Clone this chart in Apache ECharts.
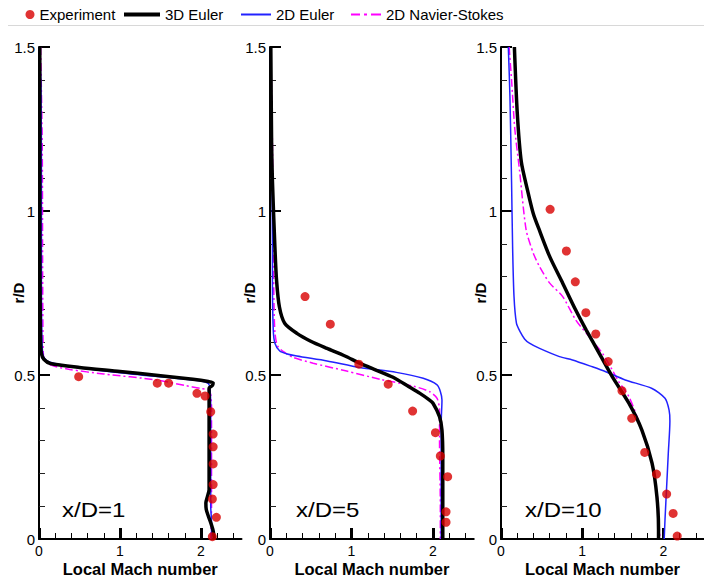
<!DOCTYPE html>
<html><head><meta charset="utf-8">
<script src="https://cdn.jsdelivr.net/npm/echarts@6/dist/echarts.min.js"></script>
<style>html,body{margin:0;padding:0;background:#fff}#c{width:704px;height:582px}</style>
</head><body><div id="c"></div>
<script>
// ---------- data ----------
const seriesNames = ['Experiment', '3D Euler', '2D Euler', '2D Navier-Stokes'];
const panelLabels = ['x/D=1', 'x/D=5', 'x/D=10'];
const xAxisTitle = 'Local Mach number';
const yAxisTitle = 'r/D';
const xMajorTicks = [0, 1, 2];
const xMinorTicks = [0.2, 0.4, 0.6, 0.8, 1.2, 1.4, 1.6, 1.8, 2.2, 2.4];

// x/D = 1   ([Mach, r/D])
const exp1 = [[0.49,0.495],[1.46,0.475],[1.60,0.475],[1.95,0.444],[2.05,0.436],[2.12,0.388],[2.15,0.320],[2.15,0.281],[2.15,0.229],[2.15,0.166],[2.14,0.122],[2.19,0.066],[2.14,0.007]];
const euler3d1 = [[0.01,1.5],[0.01,1.2],[0.01,0.9],[0.015,0.7],[0.02,0.6],[0.03,0.565],[0.06,0.548],[0.14,0.535],[0.5,0.523],[1.0,0.511],[1.5,0.498],[1.9,0.487],[2.09,0.480],[2.15,0.476],[2.14,0.468],[2.10,0.460],[2.10,0.40],[2.10,0.30],[2.10,0.20],[2.10,0.15],[2.08,0.13],[2.06,0.11],[2.065,0.09],[2.09,0.07],[2.12,0.05],[2.15,0.025],[2.165,0.0]];
const euler2d1 = [[0.005,1.5],[0.025,1.37],[0.03,1.1],[0.03,0.8],[0.035,0.62],[0.05,0.56],[0.1,0.543],[0.3,0.530],[1.0,0.507],[1.6,0.492],[2.0,0.482],[2.09,0.474],[2.11,0.46],[2.12,0.40],[2.12,0.20],[2.12,0.10],[2.13,0.05],[2.13,0.0]];
const ns1 = [[0.02,1.5],[0.04,1.2],[0.045,0.8],[0.05,0.6],[0.06,0.55],[0.15,0.530],[0.38,0.517],[0.8,0.503],[1.45,0.485],[1.8,0.468],[1.99,0.459],[2.09,0.455],[2.12,0.44],[2.13,0.40],[2.13,0.20],[2.13,0.10],[2.12,0.0]];

// x/D = 5
const exp2 = [[0.43,0.739],[0.74,0.655],[1.09,0.533],[1.45,0.472],[1.75,0.390],[2.03,0.324],[2.09,0.253],[2.18,0.190],[2.16,0.083],[2.16,0.051]];
const euler3d2 = [[0.01,1.5],[0.02,1.2],[0.03,1.09],[0.06,0.89],[0.08,0.79],[0.115,0.708],[0.18,0.658],[0.33,0.627],[0.5,0.603],[0.70,0.581],[0.92,0.558],[1.10,0.536],[1.3,0.515],[1.51,0.493],[1.70,0.465],[1.84,0.444],[1.95,0.425],[2.0,0.414],[2.08,0.373],[2.11,0.332],[2.12,0.25],[2.12,0.10],[2.12,0.0]];
const euler2d2 = [[0.005,1.5],[0.02,1.2],[0.03,0.9],[0.03,0.79],[0.04,0.637],[0.06,0.597],[0.12,0.573],[0.2,0.565],[0.33,0.558],[0.70,0.543],[1.10,0.523],[1.55,0.508],[1.88,0.490],[2.05,0.470],[2.09,0.450],[2.11,0.424],[2.10,0.35],[2.10,0.20],[2.10,0.0]];
const ns2 = [[0.01,1.5],[0.03,1.2],[0.04,0.9],[0.05,0.7],[0.06,0.63],[0.08,0.597],[0.10,0.586],[0.165,0.571],[0.29,0.553],[0.53,0.536],[0.94,0.512],[1.35,0.487],[1.76,0.466],[1.96,0.449],[2.05,0.429],[2.08,0.393],[2.08,0.30],[2.09,0.10],[2.09,0.0]];

// x/D = 10
const exp3 = [[0.605,1.005],[0.805,0.878],[0.915,0.784],[1.045,0.690],[1.167,0.625],[1.32,0.541],[1.49,0.452],[1.61,0.368],[1.77,0.264],[1.915,0.198],[2.04,0.137],[2.12,0.078],[2.17,0.009]];
const euler3d3 = [[0.165,1.5],[0.2,1.3],[0.25,1.15],[0.33,1.06],[0.40,0.99],[0.475,0.94],[0.60,0.861],[0.76,0.780],[0.92,0.698],[1.05,0.637],[1.21,0.566],[1.37,0.495],[1.575,0.414],[1.735,0.332],[1.86,0.231],[1.92,0.129],[1.94,0.03],[1.94,0.0]];
const euler2d3 = [[0.09,1.5],[0.11,1.35],[0.13,1.09],[0.143,0.89],[0.16,0.74],[0.19,0.658],[0.235,0.632],[0.29,0.610],[0.35,0.597],[0.475,0.581],[0.72,0.556],[0.88,0.546],[1.125,0.525],[1.29,0.510],[1.53,0.485],[1.86,0.459],[2.02,0.429],[2.07,0.393],[2.08,0.36],[2.06,0.26],[2.04,0.16],[2.02,0.06],[2.01,0.0]];
const ns3 = [[0.10,1.5],[0.13,1.4],[0.17,1.25],[0.23,1.12],[0.31,0.942],[0.40,0.87],[0.475,0.83],[0.60,0.78],[0.76,0.739],[0.92,0.668],[1.085,0.617],[1.25,0.566],[1.36,0.52],[1.45,0.48],[1.575,0.434],[1.68,0.37],[1.76,0.31],[1.87,0.22],[1.93,0.12],[1.95,0.03],[1.96,0.0]];

const expData = [exp1, exp2, exp3];
const e3dData = [euler3d1, euler3d2, euler3d3];
const e2dData = [euler2d1, euler2d2, euler2d3];
const nsData = [ns1, ns2, ns3];

// ---------- layout / style ----------
const SANS = "'Liberation Sans',Arial,sans-serif";
const gridLeft = [39, 270, 501];
const gridWidth = [202.5, 203.75, 205];
const gridTop = 47, gridHeight = 492;
const labelX = [62, 296, 525];
const colors = {exp: '#d80000', e3d: '#000000', e2d: '#2222ff', ns: '#ff00ff'};

const chart = echarts.init(document.getElementById('c'), null, {renderer: 'svg'});

const grids = [], xAxes = [], yAxes = [], series = [], graphics = [];
for (let i = 0; i < 3; i++) {
  grids.push({left: gridLeft[i], top: gridTop, width: gridWidth[i], height: gridHeight, containLabel: false});
  xAxes.push({
    gridIndex: i, type: 'value', min: 0, max: 2.5, position: 'bottom',
    axisLine: {onZero: false, lineStyle: {color: '#000', width: 2}},
    axisTick: {inside: true, length: 11, lineStyle: {color: '#000', width: 3}, customValues: xMajorTicks},
    axisLabel: {customValues: xMajorTicks, margin: 5, color: '#000', fontSize: 14, fontFamily: SANS},
    splitLine: {show: false},
    name: xAxisTitle, nameLocation: 'middle', nameGap: 21, nameMoveOverlap: false,
    nameTextStyle: {color: '#000', fontSize: 16.5, fontWeight: 'bold', fontFamily: SANS}
  });
  xAxes.push({
    gridIndex: i, type: 'value', min: 0, max: 2.5, position: 'top', offset: -gridHeight,
    axisLine: {show: false, onZero: false},
    axisTick: {inside: false, length: 6, lineStyle: {color: '#000', width: 1}, customValues: xMinorTicks},
    axisLabel: {show: false}, splitLine: {show: false}
  });
  yAxes.push({
    gridIndex: i, type: 'value', min: 0, max: 1.5, interval: 0.5,
    axisLine: {onZero: false, lineStyle: {color: '#000', width: 2}},
    axisTick: {inside: true, length: 11, lineStyle: {color: '#000', width: 2}},
    minorTick: {show: true, splitNumber: 5, length: 6, lineStyle: {color: '#222', width: 1}},
    axisLabel: {margin: 4, color: '#000', fontSize: 15, fontFamily: SANS},
    splitLine: {show: false}, minorSplitLine: {show: false},
    name: yAxisTitle, nameLocation: 'middle', nameRotate: 90, nameGap: 13, nameMoveOverlap: false,
    nameTextStyle: {color: '#000', fontSize: 15, fontWeight: 'bold', fontFamily: SANS}
  });
  series.push({name: seriesNames[3], type: 'line', xAxisIndex: 2*i, yAxisIndex: i, data: nsData[i],
    showSymbol: false, symbol: 'none', smooth: 0.25, z: 2,
    lineStyle: {color: colors.ns, width: 1.5, type: [8, 3, 2, 3]}, itemStyle: {color: colors.ns}});
  series.push({name: seriesNames[2], type: 'line', xAxisIndex: 2*i, yAxisIndex: i, data: e2dData[i],
    showSymbol: false, symbol: 'none', smooth: 0.25, z: 3,
    lineStyle: {color: colors.e2d, width: 1.5}, itemStyle: {color: colors.e2d}});
  series.push({name: seriesNames[1], type: 'line', xAxisIndex: 2*i, yAxisIndex: i, data: e3dData[i],
    showSymbol: false, symbol: 'none', smooth: 0.25, z: 4,
    lineStyle: {color: colors.e3d, width: 3.5}, itemStyle: {color: colors.e3d}});
  series.push({name: seriesNames[0], type: 'scatter', xAxisIndex: 2*i, yAxisIndex: i, data: expData[i],
    symbol: 'circle', symbolSize: 9, z: 5, itemStyle: {color: colors.exp}});
  graphics.push({type: 'text', x: labelX[i], y: 510, scaleX: 1.2,
    style: {text: panelLabels[i], x: 0, y: 0, fill: '#000', font: '20px ' + SANS, verticalAlign: 'middle'}});
}
graphics.push({type: 'line', shape: {x1: 8, y1: 25.5, x2: 704, y2: 25.5}, style: {stroke: '#d8d8d8', lineWidth: 1}});

const legendText = {color: '#000', fontSize: 15, fontFamily: SANS};
const legendDefs = [
  {left: 25.5, w: 9, h: 9, icon: 'circle', color: colors.exp, name: seriesNames[0]},
  {left: 124, w: 36, h: 4, icon: 'rect', color: colors.e3d, name: seriesNames[1]},
  {left: 241, w: 30, h: 2, icon: 'rect', color: colors.e2d, name: seriesNames[2]},
  {left: 351, w: 30, h: 2, icon: 'path://M0,0h9v2h-9z M13,0h3v2h-3z M20,0h10v2h-10z', color: colors.ns, name: seriesNames[3]}
];
const legends = legendDefs.map(l => ({
  left: l.left, top: 7, itemWidth: l.w, itemHeight: l.h, padding: 0,
  data: [{name: l.name, icon: l.icon}], textStyle: legendText,
  itemStyle: {color: l.color, borderWidth: 0}, lineStyle: {width: 0}
}));

chart.setOption({
  animation: false,
  backgroundColor: '#fff',
  legend: legends,
  grid: grids, xAxis: xAxes, yAxis: yAxes, series: series,
  graphic: graphics
});
</script></body></html>
